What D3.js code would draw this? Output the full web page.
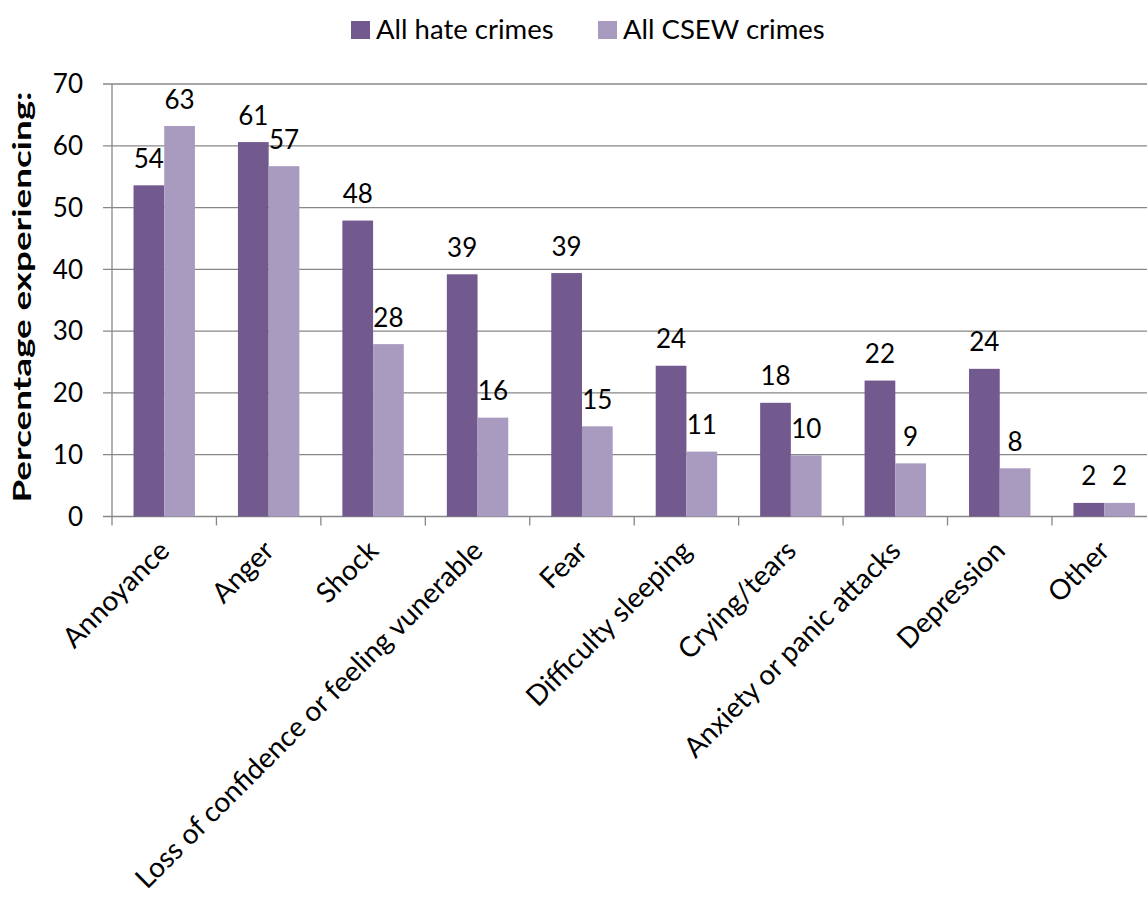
<!DOCTYPE html>
<html><head><meta charset="utf-8">
<script src="https://cdn.jsdelivr.net/npm/d3@7"></script>
<style>
html,body{margin:0;padding:0;background:#fff;}
svg{display:block;}
text{font-family:Lato,"Open Sans",sans-serif;fill:#000;}
</style></head>
<body><svg id="chart" width="1147" height="897"></svg>
<script>
const categories = ["Annoyance","Anger","Shock","Loss of confidence or feeling vunerable","Fear","Difficulty sleeping","Crying/tears","Anxiety or panic attacks","Depression","Other"];
const hateCrimes = [53.6, 60.6, 47.9, 39.2, 39.4, 24.4, 18.4, 22.0, 23.9, 2.2];
const csewCrimes = [63.2, 56.7, 27.9, 16.0, 14.6, 10.5, 9.9, 8.6, 7.8, 2.2];
const seriesNames = ["All hate crimes", "All CSEW crimes"];
const yTicks = [0,10,20,30,40,50,60,70];
const colors = ["#725a8f", "#a99bc0"];

const svg = d3.select("#chart");
const W = 1147, H = 897;
svg.append("rect").attr("width",W).attr("height",H).attr("fill","#fff");

const plotLeft = 112, step = 104.44, plotTop = 84, plotBottom = 516.5;
const x = d3.scaleBand().domain(categories).range([plotLeft, plotLeft + step*categories.length]).paddingInner(0).paddingOuter(0);
const xs = d3.scaleBand().domain([0,1]).range([0, x.bandwidth()]).paddingInner(0).paddingOuter(0.7);
const y = d3.scaleLinear().domain([0,70]).range([plotBottom, plotTop]);
const grid = "#878787";

// gridlines
svg.append("g").selectAll("line").data(yTicks).join("line")
  .attr("x1", plotLeft-9).attr("x2", W+20)
  .attr("y1", d=>y(d)).attr("y2", d=>y(d))
  .attr("stroke", grid).attr("stroke-width", 1.3);

// y axis line
svg.append("line").attr("x1",plotLeft).attr("x2",plotLeft).attr("y1",plotTop).attr("y2",plotBottom)
  .attr("stroke",grid).attr("stroke-width",1.3);

// x ticks
const xt = d3.range(categories.length+1).map(i=>plotLeft+i*step);
svg.append("g").selectAll("line").data(xt).join("line")
  .attr("x1",d=>d).attr("x2",d=>d).attr("y1",plotBottom).attr("y2",plotBottom+9)
  .attr("stroke",grid).attr("stroke-width",1.3);

// y tick labels
svg.append("g").selectAll("text").data(yTicks).join("text")
  .attr("x", 83).attr("y", d=>y(d)+9.3)
  .attr("text-anchor","end").attr("font-size",26).text(d=>d);

// bars
const series = [hateCrimes, csewCrimes];
series.forEach((vals, si) => {
  const g = svg.append("g");
  g.selectAll("rect").data(vals).join("rect")
    .attr("x",(d,i)=>x(categories[i]) + xs(si))
    .attr("width", xs.bandwidth())
    .attr("y", d=>y(d))
    .attr("height", d=>y(0)-y(d))
    .attr("fill", colors[si]);
  g.selectAll("text").data(vals).join("text")
    .attr("x",(d,i)=>x(categories[i]) + xs(si) + xs.bandwidth()/2)
    .attr("y", d=>y(d)-17.5)
    .attr("text-anchor","middle").attr("font-size",26)
    .text(d=>Math.round(d));
});

// category labels
svg.append("g").selectAll("text").data(categories).join("text")
  .attr("transform", d=>`translate(${x(d)+x.bandwidth()/2+7},${plotBottom+36}) rotate(-45)`)
  .attr("text-anchor","end").attr("font-size",28).text(d=>d);

// y title
svg.append("text")
  .attr("transform","translate(31,297) rotate(-90)")
  .attr("text-anchor","middle").attr("font-weight","bold").attr("font-size",25)
  .attr("textLength",411).attr("lengthAdjust","spacingAndGlyphs")
  .text("Percentage experiencing:");

// legend
const legX = [351, 598];
const lg = svg.append("g");
seriesNames.forEach((n,i)=>{
  lg.append("rect").attr("x",legX[i]).attr("y",21).attr("width",19).attr("height",18).attr("fill",colors[i]);
  lg.append("text").attr("x",legX[i]+25).attr("y",39).attr("font-size",27.5).text(n);
});
</script></body></html>
